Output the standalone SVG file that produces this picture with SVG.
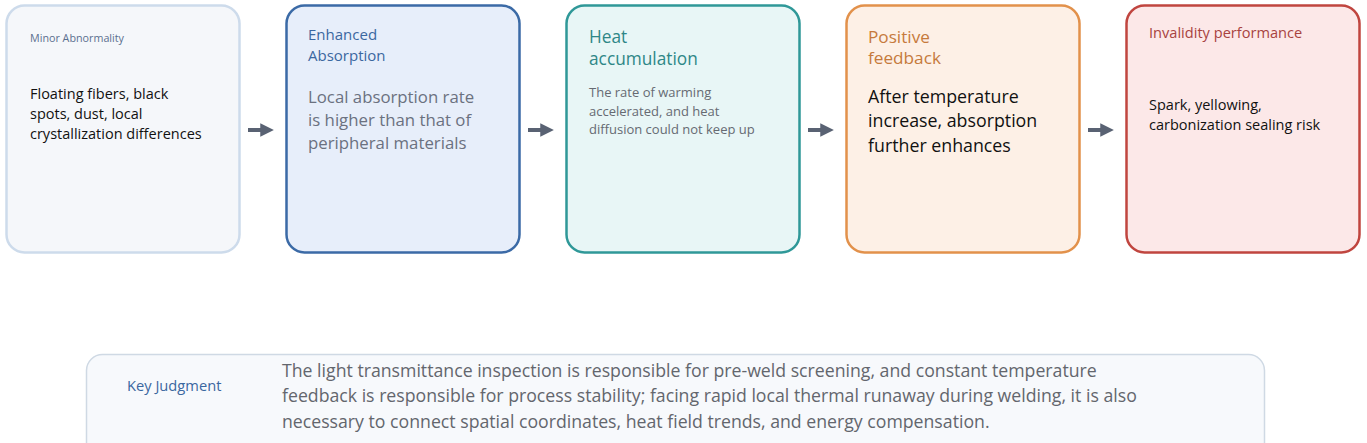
<svg xmlns="http://www.w3.org/2000/svg" width="1367" height="443" viewBox="0 0 1367 443">
<style>
text{font-family:"Open Sans","Noto Sans","Liberation Sans",sans-serif;}
.box{stroke-width:2.5;}
.arrow{stroke:#596273;stroke-width:4;fill:none;}
</style>
<defs>
<marker id="ah" viewBox="0 0 10 10" refX="2" refY="5" markerWidth="3.4" markerHeight="3.4" orient="auto" markerUnits="strokeWidth">
<path d="M0,0 L10,5 L0,10 z" fill="#596273"/>
</marker>
</defs>
<rect width="1367" height="443" fill="#ffffff"/>
<g id="node-minor">
<rect class="box" x="6.5" y="5.5" width="233" height="247" rx="18" fill="#f5f7fa" stroke="#cddbeb" stroke-width="2"/>
<text x="30" y="42" font-size="11" fill="#5b6f8f" textLength="94" lengthAdjust="spacingAndGlyphs">Minor Abnormality</text>
<text font-size="14.5" fill="#111111"><tspan x="30" y="99">Floating fibers, black</tspan><tspan x="30" y="119">spots, dust, local</tspan><tspan x="30" y="139">crystallization differences</tspan></text>
</g>
<g id="node-enhanced">
<rect class="box" x="286.5" y="5.5" width="233" height="247" rx="18" fill="#e7eefa" stroke="#3b6aa6"/>
<text font-size="15" fill="#3b67a0"><tspan x="308" y="39.5">Enhanced</tspan><tspan x="308" y="61">Absorption</tspan></text>
<text font-size="16.8" fill="#6b7180"><tspan x="308" y="103">Local absorption rate</tspan><tspan x="308" y="126">is higher than that of</tspan><tspan x="308" y="149">peripheral materials</tspan></text>
</g>
<g id="node-heat">
<rect class="box" x="566.5" y="5.5" width="233" height="247" rx="18" fill="#e8f6f6" stroke="#2f9898"/>
<text font-size="17.3" fill="#2e8787"><tspan x="589" y="43">Heat</tspan><tspan x="589" y="65">accumulation</tspan></text>
<text font-size="13" fill="#666a72"><tspan x="589" y="97">The rate of warming</tspan><tspan x="589" y="116">accelerated, and heat</tspan><tspan x="589" y="134">diffusion could not keep up</tspan></text>
</g>
<g id="node-positive">
<rect class="box" x="846.5" y="5.5" width="233" height="247" rx="18" fill="#fdf0e6" stroke="#e2914b"/>
<text font-size="17.2" fill="#c67a3c"><tspan x="868" y="42.5">Positive</tspan><tspan x="868" y="63.5">feedback</tspan></text>
<text font-size="17.8" fill="#111111"><tspan x="868" y="103">After temperature</tspan><tspan x="868" y="127">increase, absorption</tspan><tspan x="868" y="152">further enhances</tspan></text>
</g>
<g id="node-invalidity">
<rect class="box" x="1126.5" y="5.5" width="233" height="247" rx="18" fill="#fce8e8" stroke="#c0453f"/>
<text x="1149" y="38" font-size="14.6" fill="#a8433f">Invalidity performance</text>
<text font-size="14.5" fill="#111111"><tspan x="1149" y="110">Spark, yellowing,</tspan><tspan x="1149" y="130">carbonization sealing risk</tspan></text>
</g>
<g id="connectors">
<line class="arrow" x1="248" y1="130" x2="263" y2="130" marker-end="url(#ah)"/>
<line class="arrow" x1="528" y1="130" x2="543" y2="130" marker-end="url(#ah)"/>
<line class="arrow" x1="808" y1="130" x2="823" y2="130" marker-end="url(#ah)"/>
<line class="arrow" x1="1088" y1="130" x2="1103" y2="130" marker-end="url(#ah)"/>
</g>
<g id="node-key">
<rect x="86.5" y="354.5" width="1178" height="110" rx="16" fill="#f7f9fc" stroke="#cfd9e4" stroke-width="1.5"/>
<text x="127" y="391" font-size="14.7" fill="#3b67a0">Key Judgment</text>
<text font-size="17.7" fill="#63666d"><tspan x="282" y="377">The light transmittance inspection is responsible for pre-weld screening, and constant temperature</tspan><tspan x="282" y="402">feedback is responsible for process stability; facing rapid local thermal runaway during welding, it is also</tspan><tspan x="282" y="428">necessary to connect spatial coordinates, heat field trends, and energy compensation.</tspan></text>
</g>
</svg>
